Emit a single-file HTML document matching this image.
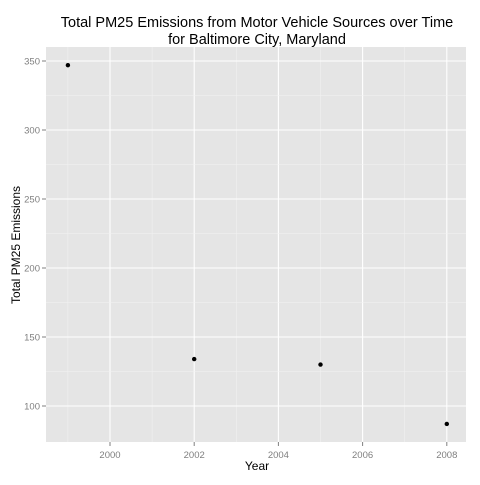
<!DOCTYPE html>
<html><head><meta charset="utf-8"><style>
body{margin:0;background:#fff;}
svg{font-family:"Liberation Sans",sans-serif;}
</style></head><body>
<svg width="480" height="480">
<text x="257" y="27" text-anchor="middle" font-size="14.5">Total PM25 Emissions from Motor Vehicle Sources over Time</text>
<text x="257" y="44" text-anchor="middle" font-size="14.5">for Baltimore City, Maryland</text>
<rect x="46" y="47" width="420" height="395" fill="#e5e5e5"/>
<g id="grid"></g>
<g id="axes"></g>
<g id="pts"></g>
<text x="257" y="470" text-anchor="middle" font-size="12">Year</text>
<text transform="translate(20,245) rotate(-90)" text-anchor="middle" font-size="12">Total PM25 Emissions</text>
</svg>
<script>
const years=[1999,2002,2005,2008];
const emissions=[347,134,130,87];
const xTicks=[2000,2002,2004,2006,2008];
const yTicks=[100,150,200,250,300,350];
const X=v=>110+(v-2000)*42.1;
const Y=v=>130-(v-300)*1.38;
const ns="http://www.w3.org/2000/svg";
function mk(t,a,p){const e=document.createElementNS(ns,t);for(const k in a)e.setAttribute(k,a[k]);p.appendChild(e);return e;}
const g=document.getElementById('grid'),ax=document.getElementById('axes'),pg=document.getElementById('pts');
for(let i=0;i<xTicks.length;i++){
 const x=X(xTicks[i]);
 const l=mk('line',{x1:x,x2:x,y1:47,y2:442,stroke:'#fff','stroke-width':1.1},g);
 
 
 if(i<xTicks.length-1){const xm=X(xTicks[i]+1);const m=mk('line',{x1:xm,x2:xm,y1:47,y2:442,stroke:'#f2f2f2','stroke-width':0.5},g);
 
 }
 mk('line',{x1:x,x2:x,y1:442,y2:446,stroke:'#7f7f7f'},ax);
 const t=mk('text',{x:x,y:458,'text-anchor':'middle','font-size':9.5,fill:'#7f7f7f'},ax);t.textContent=xTicks[i];
 
 
}
{const xm=X(1999);const m=mk('line',{x1:xm,x2:xm,y1:47,y2:442,stroke:'#f2f2f2','stroke-width':0.5},g);
 
 }
for(let i=0;i<yTicks.length;i++){
 const y=Y(yTicks[i]);
 const l=mk('line',{x1:46,x2:466,y1:y,y2:y,stroke:'#fff','stroke-width':1.1},g);
 
 
 if(i<yTicks.length-1){const ym=Y(yTicks[i]+25);const m=mk('line',{x1:46,x2:466,y1:ym,y2:ym,stroke:'#f2f2f2','stroke-width':0.5},g);
 
 }
 mk('line',{x1:42,x2:46,y1:y,y2:y,stroke:'#7f7f7f'},ax);
 const t=mk('text',{x:40,y:y+3.5,'text-anchor':'end','font-size':9.5,fill:'#7f7f7f'},ax);t.textContent=yTicks[i];
 
 
}
{const ym=Y(75+50);}
for(let i=0;i<years.length;i++){
 const c=mk('circle',{cx:X(years[i]),cy:Y(emissions[i]),r:2.2,fill:'#000'},pg);
 
 
}
</script>
</body></html>
